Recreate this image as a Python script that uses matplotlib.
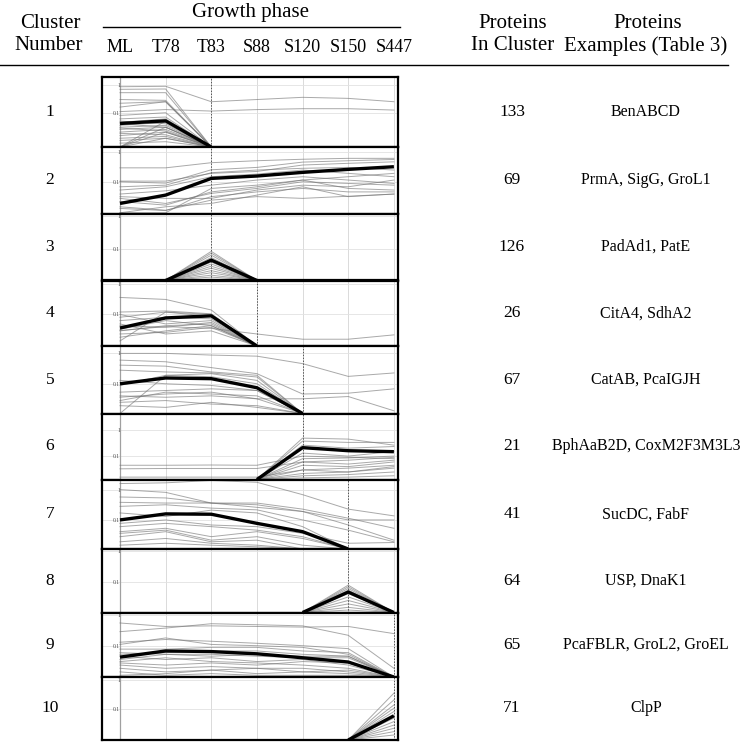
import numpy as np
import matplotlib
matplotlib.use("Agg")
import matplotlib.pyplot as plt
from matplotlib.lines import Line2D
from matplotlib.transforms import blended_transform_factory

plt.rcParams['font.family'] = ['Liberation Serif', 'DejaVu Serif']

nan = np.nan

phases = ["ML", "T78", "T83", "S88", "S120", "S150", "S447"]
cluster_ids = ["1", "2", "3", "4", "5", "6", "7", "8", "9", "10"]
protein_counts = ["133", "69", "126", "26", "67", "21", "41", "64", "65", "71"]
protein_examples = ["BenABCD", "PrmA, SigG, GroL1", "PadAd1, PatE", "CitA4, SdhA2",
                    "CatAB, PcaIGJH", "BphAaB2D, CoxM2F3M3L3", "SucDC, FabF",
                    "USP, DnaK1", "PcaFBLR, GroL2, GroEL", "ClpP"]
# phase index where each cluster's profile ends (dotted marker)
peak_phase = [2, 2, 2, 3, 4, 4, 5, 5, 6, 6]

# cluster 1
c1_mean = [0.041, 0.051, 0, nan, nan, nan, nan]
c1_lines = [
    [0.87, 0.90, 0.25, 0.30, 0.36, 0.33, 0.25],
    [0.11, 0.13, 0.115, 0.13, 0.14, 0.14, 0.125],
    [0.53, 0.53, 0], [0.22, 0.25, 0], [0.16, 0.25, 0], [0.30, 0.28, 0],
    [0.08, 0.10, 0], [0.06, 0.07, 0], [0.035, 0.045, 0], [0.03, 0.035, 0],
    [0.025, 0.03, 0], [0.02, 0.025, 0], [0.015, 0.02, 0], [0.012, 0.014, 0],
    [0.01, 0.012, 0], [0, 0.03, 0], [0, 0.02, 0], [0, 0.012, 0],
    [0.008, 0.009, 0], [0.05, 0.04, 0], [0.045, 0.06, 0], [0.7, 0.72, 0],
    [0.018, 0.016, 0], [0.028, 0.022, 0], [0.04, 0.03, 0], [0, 0.05, 0],
]
# cluster 2
c2_mean = [0.019, 0.036, 0.129, 0.155, 0.205, 0.258, 0.316]
c2_lines = [
    [0.29, 0.29, 0.43, 0.50, 0.56, 0.60, 0.60],
    [0.105, 0.105, 0.19, 0.22, 0.36, 0.41, 0.46],
    [0.068, 0.077, 0.20, 0.245, 0.28, 0.30, 0.245],
    [0.039, 0.05, 0.077, 0.114, 0.147, 0.114, 0.088],
    [0.028, 0.019, 0.041, 0.06, 0.10, 0.088, 0.077],
    [0.0093, 0.0147, 0.019, 0.036, 0.068, 0.032, 0.039],
    [0.0147, 0.0113, 0.0245, 0.032, 0.028, 0.033, 0.039],
    [0.0093, 0.0093, 0.06, 0.077, 0.114, 0.147, 0.19],
    [0.053, 0.068, 0.147, 0.18, 0.245, 0.19, 0.147],
    [0.022, 0.0167, 0.046, 0.068, 0.114, 0.06, 0.053],
    [0.032, 0.028, 0.028, 0.053, 0.077, 0.068, 0.114],
    [0.013, 0.011, 0.032, 0.046, 0.06, 0.046, 0.046],
    [0.10, 0.09, 0.25, 0.30, 0.45, 0.50, 0.55],
]
# cluster 3
c3_mean = [nan, 0, 0.046, 0, nan, nan, nan]
c3_peaks = [0.085, 0.075, 0.065, 0.055, 0.04, 0.035, 0.03, 0.026,
            0.022, 0.019, 0.016, 0.014, 0.012]
c3_lines = [[nan, 0, p, 0] for p in c3_peaks]
# cluster 4
c4_mean = [0.036, 0.077, 0.09, 0, nan, nan, nan]
c4_lines = [
    [0.36, 0.31, 0.14, 0],
    [0.03, 0.04, 0.035, 0.023, 0.0155, 0.0155, 0.0215],
    [0.12, 0.13, 0.105, 0], [0.10, 0.049, 0.063, 0], [0.0136, 0.12, 0.086, 0],
    [0.063, 0.081, 0.072, 0], [0.043, 0.038, 0.055, 0], [0.029, 0.043, 0.049, 0],
    [0.023, 0.026, 0.038, 0], [0.018, 0.029, 0.043, 0], [0.049, 0.023, 0.029, 0],
    [0.033, 0.063, 0.043, 0], [0.081, 0.12, 0.10, 0],
]
# cluster 5
c5_mean = [0.10, 0.155, 0.147, 0.074, 0, nan, nan]
c5_lines = [
    [1.0, 1.0, 0.88, 0.81, 0.46, 0.175, 0.227],
    [0.6, 0.53, 0.34, 0.215, 0.046, 0.049, 0.068],
    [0.41, 0.38, 0.245, 0.19, 0], [0.088, 0.19, 0.215, 0.129, 0],
    [0.036, 0.046, 0.053, 0.032, 0], [0.0245, 0.028, 0.0215, 0.019, 0],
    [0, 0.19, 0.17, 0.10, 0], [0.019, 0.0167, 0.0245, 0.0167, 0],
    [0.28, 0.245, 0.227, 0.167, 0], [0.053, 0.06, 0.068, 0.06, 0],
    [0.04, 0.036, 0.04, 0.032, 0.032, 0.038, 0.0129],
    [0.129, 0.10, 0.088, 0.06, 0], [0.028, 0.053, 0.046, 0.04, 0],
]
# cluster 6
c6_mean = [nan, nan, nan, 0, 0.209, 0.16, 0.147]
c6_lines = [
    [0.045, 0.045, 0.046, 0.045, 0.10, 0.09, 0.08],
    [0.033, 0.034, 0.034, 0.034, 0.06, 0.05, 0.07],
    [0.016, 0.016, 0.016, 0.016, 0.03, 0.025, 0.04],
    [nan, nan, nan, 0, 0.48, 0.44, 0.26], [nan, nan, nan, 0, 0.37, 0.33, 0.33],
    [nan, nan, nan, 0, 0.26, 0.20, 0.23], [nan, nan, nan, 0, 0.13, 0.10, 0.15],
    [nan, nan, nan, 0, 0.08, 0.085, 0.10], [nan, nan, nan, 0, 0.06, 0.07, 0.09],
    [nan, nan, nan, 0, 0.045, 0.04, 0.06], [nan, nan, nan, 0, 0.03, 0.035, 0.045],
    [nan, nan, nan, 0, 0.022, 0.025, 0.035], [nan, nan, nan, 0, 0.018, 0.02, 0.025],
    [nan, nan, nan, 0, 0.015, 0.016, 0.018],
]
# cluster 7
c7_mean = [0.10, 0.158, 0.154, 0.077, 0.041, 0, nan]
c7_lines = [
    [1.58, 1.67, 2.0, 1.74, 0.68, 0.227, 0.136],
    [1.0, 0.81, 0.36, 0.316, 0.19, 0.10, 0.10],
    [0.57, 0.53, 0.36, 0.36, 0.227, 0.114, 0.053],
    [0.38, 0.36, 0.36, 0.26, 0.19, 0.068, 0.0215],
    [0.28, 0.316, 0.245, 0.215, 0.10, 0.046, 0.019],
    [0.041, 0.053, 0.028, 0.041, 0.0245, 0], [0.036, 0.046, 0.0215, 0.028, 0.0147, 0],
    [0.028, 0.041, 0.019, 0.0215, 0], [0.06, 0.077, 0.06, 0.046, 0.028, 0],
    [0.17, 0.13, 0.21, 0.17, 0.06, 0], [0.019, 0.0245, 0.017, 0.0147, 0],
    [0.0147, 0.017, 0.0147, 0.013, 0], [0.077, 0.10, 0.068, 0.06, 0.036, 0.017, 0.018],
]
# cluster 8
c8_mean = [nan, nan, nan, nan, 0, 0.046, 0]
c8_peaks = [0.077, 0.068, 0.06, 0.053, 0.041, 0.032, 0.0245, 0.019, 0.0147, 0.012]
c8_lines = [[nan, nan, nan, nan, 0, p, 0] for p in c8_peaks]
# cluster 9
c9_mean = [0.042, 0.067, 0.064, 0.054, 0.040, 0.029, 0]
c9_lines = [
    [0.56, 0.43, 0.45, 0.43, 0.41, 0.43, 0.25],
    [0.29, 0.38, 0.53, 0.49, 0.45, 0.22, 0.018],
    [0.11, 0.18, 0.11, 0.10, 0.088, 0.052, 0],
    [0.077, 0.077, 0.088, 0.088, 0.067, 0.059, 0],
    [0.059, 0.052, 0.045, 0.052, 0.045, 0.045, 0],
    [0.045, 0.035, 0.040, 0.030, 0.035, 0.023, 0],
    [0.030, 0.040, 0.030, 0.027, 0.023, 0.018, 0],
    [0.023, 0.018, 0.0205, 0.018, 0.0137, 0.0157, 0],
    [0.018, 0.0137, 0.0157, 0.012, 0.0137, 0.012, 0],
    [0.0137, 0.0106, 0.012, 0.0106, 0.0106, 0.0106, 0],
    [0.035, 0.052, 0.052, 0.045, 0.040, 0.040, 0],
    [0.052, 0.059, 0.067, 0.067, 0.052, 0.045, 0],
    [0.027, 0.023, 0.027, 0.023, 0.030, 0.027, 0],
    [0.0106, 0.012, 0.0157, 0.018, 0.018, 0.0137, 0],
    [0.13, 0.16, 0.14, 0.12, 0.10, 0.08, 0],
]
# cluster 10
c10_mean = [nan, nan, nan, nan, nan, 0, 0.059]
c10_peaks = [0.36, 0.21, 0.14, 0.108, 0.083, 0.049, 0.037, 0.028, 0.0217, 0.0166, 0.0127]
c10_lines = [[nan, nan, nan, nan, nan, 0, p] for p in c10_peaks]

means = [c1_mean, c2_mean, c3_mean, c4_mean, c5_mean,
         c6_mean, c7_mean, c8_mean, c9_mean, c10_mean]
profiles = [c1_lines, c2_lines, c3_lines, c4_lines, c5_lines,
            c6_lines, c7_lines, c8_lines, c9_lines, c10_lines]

# layout (pixels of a 742 px figure)
W = 742.0
edges = [77, 147, 213.5, 280.5, 346, 413.5, 479.5, 549, 612.5, 677, 740]
ylims = [(0.0058, 1.95), (0.0088, 1.43), (0.011, 1.21), (0.0093, 1.29), (0.0105, 1.75),
         (0.013, 4.1), (0.011, 2.15), (0.010, 1.14), (0.0093, 1.24), (0.0085, 1.31)]
ax_left, ax_right = 102, 398

fig = plt.figure(figsize=(7.42, 7.42), dpi=100)
axes = []
for i in range(10):
    top, bot = edges[i], edges[i + 1]
    ax = fig.add_axes([ax_left / W, 1 - bot / W, (ax_right - ax_left) / W, (bot - top) / W])
    lo, hi = ylims[i]
    ax.set_yscale('log')
    ax.set_xlim(-0.394, 6.09)
    ax.set_ylim(lo, hi)
    for k in range(7):
        ax.axvline(k, color='#d4d4d4', lw=0.6, zorder=0)
    for yv in (0.1, 1):
        ax.axhline(yv, color='#e2e2e2', lw=0.6, zorder=0)
    ax.axvline(0, color='#a0a0a0', lw=0.9, zorder=0)
    ax.axvline(peak_phase[i], color='#555555', lw=0.7, ls=(0, (1.5, 1.5)), zorder=1)
    for prof in profiles[i]:
        y = np.array(prof, dtype=float)
        y = np.where(y == 0, lo, y)
        ax.plot(range(len(y)), y, color='#707070', lw=0.7, alpha=0.6, zorder=2)
    m = np.array(means[i], dtype=float)
    m = np.where(m == 0, lo, m)
    ax.plot(range(len(m)), m, color='black', lw=2.4, zorder=3, solid_capstyle='butt')
    ax.set_xticks([])
    ax.set_yticks([0.1, 1])
    ax.set_yticklabels(['0.1', '1'])
    ax.yaxis.set_minor_locator(matplotlib.ticker.NullLocator())
    ax.tick_params(axis='y', length=0, pad=-13, labelsize=4, labelcolor='#444444')
    for sp in ax.spines.values():
        sp.set_linewidth(1.6)
        sp.set_color('black')
    axes.append(ax)

hfs = 15     # header
cfs = 13     # phase labels
rfs = 12.5   # row numbers
efs = 11.5   # protein examples
# header
fig.text(50 / W, 1 - 24 / W, "Cluster", ha='center', va='center', fontsize=hfs)
fig.text(49 / W, 1 - 46 / W, "Number", ha='center', va='center', fontsize=hfs)
fig.text(250 / W, 1 - 13 / W, "Growth phase", ha='center', va='center', fontsize=hfs)
fig.add_artist(Line2D([103 / W, 400 / W], [1 - 27 / W, 1 - 27 / W], color='black', lw=1.0))
tr = blended_transform_factory(axes[0].transData, fig.transFigure)
for k, p in enumerate(phases):
    fig.text(k, 1 - 48 / W, p, transform=tr, ha='center', va='center', fontsize=cfs)
fig.text(513 / W, 1 - 24 / W, "Proteins", ha='center', va='center', fontsize=hfs)
fig.text(513 / W, 1 - 46 / W, "In Cluster", ha='center', va='center', fontsize=hfs)
fig.text(648 / W, 1 - 24 / W, "Proteins", ha='center', va='center', fontsize=hfs)
fig.text(646 / W, 1 - 46 / W, "Examples (Table 3)", ha='center', va='center', fontsize=hfs)
fig.add_artist(Line2D([0, 728 / W], [1 - 65 / W, 1 - 65 / W], color='black', lw=1.0))

# row labels
for i in range(10):
    yc = 1 - (edges[i] + edges[i + 1]) / 2 / W
    fig.text(50 / W, yc, cluster_ids[i], ha='center', va='center', fontsize=rfs)
    fig.text(512 / W, yc, protein_counts[i], ha='center', va='center', fontsize=rfs)
    fig.text(646 / W, yc, protein_examples[i], ha='center', va='center', fontsize=efs)

fig.savefig("out.png", dpi=100, facecolor='white')
